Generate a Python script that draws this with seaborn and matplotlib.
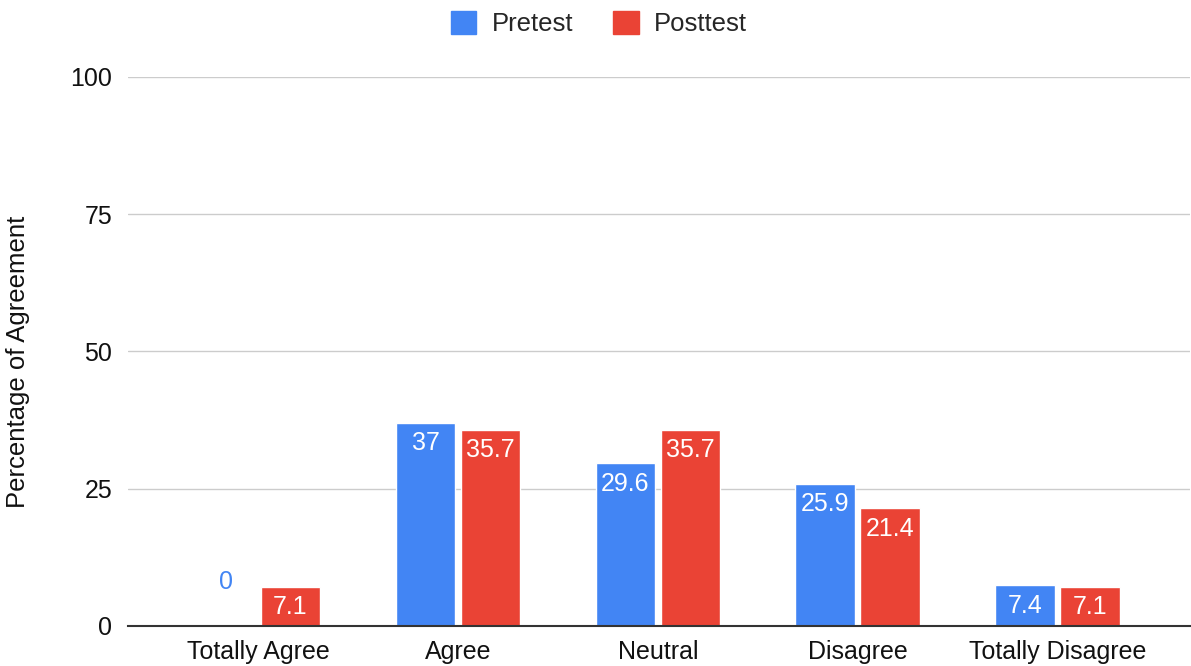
import matplotlib
matplotlib.use("Agg")
import matplotlib.pyplot as plt
from matplotlib.patches import Patch
import seaborn as sns
import pandas as pd

categories = ["Totally Agree", "Agree", "Neutral", "Disagree", "Totally Disagree"]
pretest = [0, 37, 29.6, 25.9, 7.4]
posttest = [7.1, 35.7, 35.7, 21.4, 7.1]
series = ["Pretest", "Posttest"]
colors = {"Pretest": "#4285F4", "Posttest": "#EA4335"}
y_ticks = [0, 25, 50, 75, 100]

df = pd.DataFrame({
    "Response": categories * 2,
    "Percent": pretest + posttest,
    "Test": ["Pretest"] * len(categories) + ["Posttest"] * len(categories),
})

sns.set_theme(style="white")
plt.rcParams["font.family"] = ["Liberation Sans", "DejaVu Sans"]

fig = plt.figure(figsize=(11.91, 6.66), dpi=100)
ax = fig.add_axes([0.1075, 0.0601, 0.8915, 0.8243])

sns.barplot(data=df, x="Response", y="Percent", hue="Test", order=categories,
            hue_order=series, palette=colors, width=0.65, gap=0.08,
            saturation=1, legend=False, ax=ax)

ax.set_ylim(0, 100)
ax.set_xlim(-0.65, 4.66)
ax.set_yticks(y_ticks)
ax.set_yticklabels([str(t) for t in y_ticks])
ax.yaxis.grid(True, color="#cccccc", linewidth=1.0)
ax.set_axisbelow(True)
for side in ["left", "right", "top"]:
    ax.spines[side].set_visible(False)
ax.spines["bottom"].set_color("#333333")
ax.spines["bottom"].set_linewidth(1.5)
ax.spines["bottom"].set_zorder(5)
ax.tick_params(axis="both", length=0, labelsize=18, colors="#111111")
ax.tick_params(axis="y", pad=11.5)
ax.tick_params(axis="x", pad=10)
ax.set_xlabel("")
ax.set_ylabel("Percentage of Agreement", fontsize=18.5, color="#111111")
ax.yaxis.set_label_coords(-0.0925, 0.481)

# value labels: inside the top of each bar, or above it in series colour when zero
for container, name, vals in zip(ax.containers, series, [pretest, posttest]):
    for patch, v in zip(container.patches, vals):
        xc = patch.get_x() + patch.get_width() / 2
        label = f"{v:g}"
        if v == 0:
            ax.annotate(label, (xc, v), xytext=(0, 23), textcoords="offset points",
                        ha="center", va="bottom", fontsize=18, color=colors[name])
        else:
            ax.annotate(label, (xc, v), xytext=(0, -6), textcoords="offset points",
                        ha="center", va="top", fontsize=18, color="white")

handles = [Patch(facecolor=colors[s], edgecolor=colors[s], label=s) for s in series]
fig.legend(handles=handles, loc="upper center", bbox_to_anchor=(0.503, 1.018), ncol=2,
           frameon=False, fontsize=18.5, handlelength=1.0, handleheight=1.0,
           handletextpad=0.6, columnspacing=1.55)

fig.savefig("out.png", dpi=100)
